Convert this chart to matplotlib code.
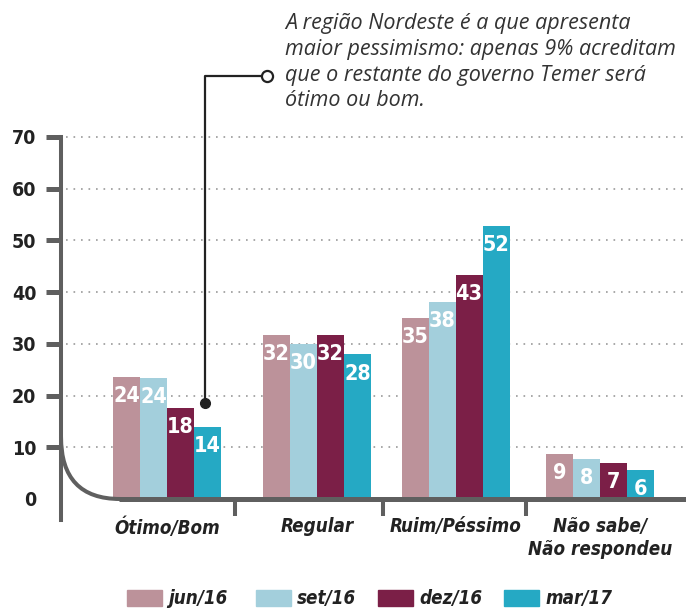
import numpy as np
import matplotlib.pyplot as plt
from matplotlib import font_manager
from matplotlib.patches import PathPatch, Rectangle
from matplotlib.path import Path

categories = ["Ótimo/Bom", "Regular", "Ruim/Péssimo", "Não sabe/\nNão respondeu"]
series = ["jun/16", "set/16", "dez/16", "mar/17"]
colors = ["#bc929a", "#a3cfdc", "#7b1f47", "#25a9c4"]
# bar heights, labels as printed
heights = [
    [23.6, 31.7, 35.0, 8.7],
    [23.4, 30.0, 38.1, 7.7],
    [17.6, 31.7, 43.3, 7.0],
    [13.9, 28.0, 52.8, 5.6],
]
labels = [
    [24, 32, 35, 9],
    [24, 30, 38, 8],
    [18, 32, 43, 7],
    [14, 28, 52, 6],
]
yticks = [0, 10, 20, 30, 40, 50, 60, 70]
note = ("A região Nordeste é a que apresenta\n"
        "maior pessimismo: apenas 9% acreditam\n"
        "que o restante do governo Temer será\n"
        "ótimo ou bom.")

# pick a narrow face if one is installed
names = {(f.name, f.stretch) for f in font_manager.fontManager.ttflist}
cond, stretch = "Roboto", "normal"
for nm, st in [("Liberation Sans Narrow", "condensed"), ("Liberation Sans Narrow", "normal"),
               ("DejaVu Sans", "condensed"), ("DejaVu Sans Condensed", "condensed"),
               ("DejaVu Sans Condensed", "normal")]:
    if (nm, st) in names:
        cond, stretch = nm, st
        break

axis_col = "#5f5f5f"

fig = plt.figure(figsize=(6.86, 6.08), dpi=100)
ax = fig.add_axes([61/686, 109/608, 625/686, 362/608])
ax.set_xlim(-0.735, 3.597)
ax.set_ylim(0, 70)

w = 0.187
x = np.array([0, 1.04, 2.0, 3.0])  # group centres (slightly uneven in the original)
for i, s in enumerate(series):
    xs = x + (i - 1.5) * w
    ax.bar(xs, heights[i], width=w, color=colors[i], zorder=2)
    for xx, h, lab in zip(xs, heights[i], labels[i]):
        ax.text(xx, h - 1.8, str(lab), ha="center", va="top", color="white",
                fontsize=15.5, fontweight="bold", family=cond, stretch=stretch, zorder=3)

# grid
for yv in yticks[1:]:
    ax.plot([-0.7, 3.597], [yv, yv], color="#9a9a9a", lw=1.2,
            linestyle=(0, (1, 3.5)), zorder=1, clip_on=False)

for sp in ["top", "right", "bottom"]:
    ax.spines[sp].set_visible(False)
ax.spines["left"].set_bounds(-4, 70)
ax.spines["left"].set_linewidth(2.9)
ax.spines["left"].set_color(axis_col)

ax.set_yticks(yticks)
ax.set_yticklabels([str(v) for v in yticks], fontsize=14, fontweight="bold",
                   family=cond, stretch=stretch, color="#222222")
ax.tick_params(axis="y", length=10.8, width=3.6, color=axis_col, pad=7)
ax.yaxis.get_major_ticks()[0].tick1line.set_visible(False)

ax.set_xticks(x)
ax.set_xticklabels(categories, fontsize=13.5, fontweight="bold", style="italic",
                   family=cond, stretch=stretch, color="#222222", va="top",
                   linespacing=1.25)
ax.tick_params(axis="x", length=0, pad=13)

# baseline with rounded corner into the y axis
ax.plot([-0.33, 3.597], [0, 0], color=axis_col, lw=3.6, clip_on=False,
        solid_capstyle="butt", zorder=4)
curve = Path([(-0.735, 12), (-0.735, 0), (-0.326, 0)],
             [Path.MOVETO, Path.CURVE3, Path.CURVE3])
ax.add_patch(PathPatch(curve, fill=False, edgecolor=axis_col, lw=2.9,
                       clip_on=False, zorder=4))
for sx in [0.47, 1.50, 2.49]:
    ax.plot([sx, sx], [0, -3.2], color=axis_col, lw=2.9, clip_on=False,
            solid_capstyle="butt", zorder=4)

# annotation connector
ax.plot([0.263, 0.263, 0.655], [18.6, 81.8, 81.8], color="#222222", lw=1.6,
        clip_on=False, zorder=5)
ax.plot(0.263, 18.6, "o", color="#222222", ms=7, clip_on=False, zorder=5)
ax.plot(0.69, 81.8, "o", mfc="white", mec="#222222", mew=1.6, ms=8,
        clip_on=False, zorder=5)
fig.text(285/686, 1 - 13/608, note, ha="left", va="top", fontsize=15.5,
         style="italic", family="Open Sans", color="#333333", linespacing=1.3)

# legend, laid out by hand in figure pixels
leg_x = [127, 256, 378, 504]
for lx, c, s in zip(leg_x, colors, series):
    fig.patches.append(Rectangle((lx/686, 2/608), 35/686, 16/608, color=c,
                                 transform=fig.transFigure, figure=fig))
    fig.text((lx + 41)/686, 10/608, s, ha="left", va="center", color="#222222",
             fontsize=13.5, fontweight="bold", style="italic", family=cond,
             stretch=stretch)

fig.savefig("out.png", dpi=100)
